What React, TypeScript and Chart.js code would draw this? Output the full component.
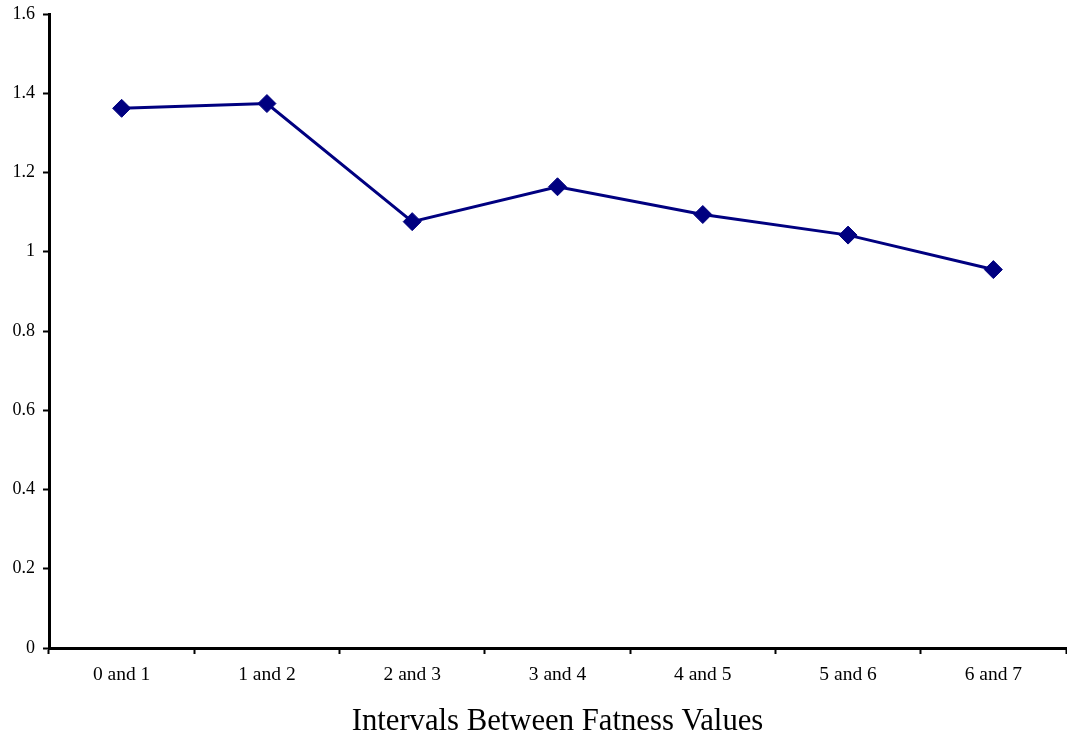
import React, { useEffect, useRef } from "react";
import { Chart, registerables } from "chart.js";

Chart.register(...registerables);

const categories = ["0 and 1", "1 and 2", "2 and 3", "3 and 4", "4 and 5", "5 and 6", "6 and 7"];
const values = [1.362, 1.374, 1.076, 1.164, 1.094, 1.042, 0.955];
const yTicks = [0, 0.2, 0.4, 0.6, 0.8, 1, 1.2, 1.4, 1.6];
const xTitle = "Intervals Between Fatness Values";

export default function App() {
  const ref = useRef<HTMLCanvasElement | null>(null);
  useEffect(() => {
    document.body.style.margin = "0";
    const ctx = ref.current!;
    const font = "'Liberation Serif', 'Times New Roman', serif";
    const chart = new Chart(ctx, {
      type: "line",
      data: {
        labels: categories,
        datasets: [
          {
            data: values,
            borderColor: "#000080",
            backgroundColor: "#000080",
            borderWidth: 3,
            pointStyle: "rectRot",
            pointRadius: 9,
            pointBorderWidth: 1,
            pointBackgroundColor: "#000080",
            pointBorderColor: "#000080",
            tension: 0,
          },
        ],
      },
      options: {
        responsive: false,
        animation: false,
        maintainAspectRatio: false,
        layout: { autoPadding: false, padding: { top: 14, right: 1, left: 0, bottom: 0 } },
        plugins: { legend: { display: false }, tooltip: { enabled: false } },
        scales: {
          x: {
            offset: true,
            grid: {
              offset: true,
              drawOnChartArea: false,
              drawTicks: true,
              tickLength: 6,
              tickWidth: 2,
              color: "#000",
            },
            border: { display: true, color: "#000", width: 3 },
            ticks: { color: "#000", font: { family: font, size: 19.5 }, padding: 9, maxRotation: 0 },
            title: {
              display: true,
              text: xTitle,
              color: "#000",
              font: { family: font, size: 30.7 },
              padding: { top: 0, bottom: 0 },
            },
            afterFit: (s: any) => {
              s.height = 92;
              s.paddingLeft = 0;
              s.paddingRight = 0;
            },
          },
          y: {
            min: 0,
            max: 1.6,
            afterBuildTicks: (s: any) => {
              s.ticks = yTicks.map((v) => ({ value: v }));
            },
            grid: {
              drawOnChartArea: false,
              drawTicks: true,
              tickLength: 6,
              tickWidth: 2,
              color: "#000",
            },
            border: { display: true, color: "#000", width: 3 },
            ticks: {
              color: "#000",
              font: { family: font, size: 18 },
              padding: 8,
              callback: (v: any) => String(+Number(v).toFixed(1)),
            },
            afterFit: (s: any) => {
              s.width = 49;
              s.paddingTop = 0;
              s.paddingBottom = 0;
            },
          },
        },
      },
    });
    return () => chart.destroy();
  }, []);
  return (
    <div style={{ position: "absolute", left: 0, top: 0, width: 1067, height: 740, background: "#fff" }}>
      <canvas ref={ref} width={1067} height={740} style={{ width: 1067, height: 740 }} />
    </div>
  );
}
